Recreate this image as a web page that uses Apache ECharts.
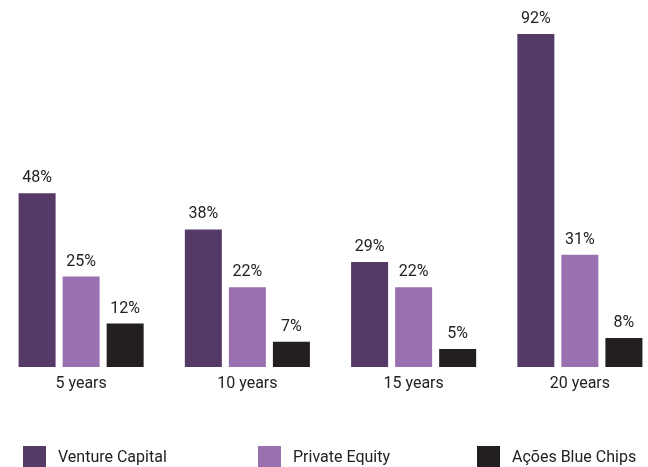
<!DOCTYPE html>
<html>
<head>
<meta charset="utf-8">
<script src="https://cdn.jsdelivr.net/npm/echarts@6/dist/echarts.min.js"></script>
<style>
  html, body { margin: 0; padding: 0; background: #fff; }
  #main { width: 648px; height: 467px; }
</style>
</head>
<body>
<div id="main"></div>
<script>
var periods = ["5 years", "10 years", "15 years", "20 years"];
var ventureCapital = [48, 38, 29, 92];
var privateEquity = [25, 22, 22, 31];
var blueChips = [12, 7, 5, 8];
var seriesNames = ["Venture Capital", "Private Equity", "Ações Blue Chips"];

var colors = ["#553a67", "#9a71b0", "#231f20"];
var font = "Roboto";

function makeSeries(name, data, color) {
  return {
    name: name,
    type: "bar",
    data: data,
    barWidth: 37,
    barGap: "19%",
    itemStyle: { color: color },
    label: {
      show: true,
      position: "top",
      distance: 7,
      formatter: "{c}%",
      color: "#222",
      fontSize: 16,
      fontFamily: font,
    },
  };
}

function makeLegend(name, left) {
  return {
    data: [name],
    left: left,
    top: 441,
    itemWidth: 23,
    itemHeight: 23,
    icon: "rect",
    textStyle: {
      color: "#222",
      fontSize: 16,
      fontFamily: font,
      padding: [0, 0, 0, 7],
    },
  };
}

var chart = echarts.init(document.getElementById("main"));
chart.setOption({
  animation: false,
  color: colors,
  legend: [
    makeLegend(seriesNames[0], 18),
    makeLegend(seriesNames[1], 253),
    makeLegend(seriesNames[2], 472),
  ],
  grid: {
    left: -2,
    width: 665,
    top: 34,
    bottom: 100,
    containLabel: false,
    outerBoundsMode: "none",
  },
  xAxis: {
    type: "category",
    data: periods,
    axisLine: { show: false },
    axisTick: { show: false },
    axisLabel: {
      color: "#222",
      fontSize: 16,
      fontFamily: font,
      margin: 9,
    },
  },
  yAxis: {
    type: "value",
    min: 0,
    max: 92,
    show: false,
  },
  series: [
    makeSeries(seriesNames[0], ventureCapital, colors[0]),
    makeSeries(seriesNames[1], privateEquity, colors[1]),
    makeSeries(seriesNames[2], blueChips, colors[2]),
  ],
});
</script>
</body>
</html>
